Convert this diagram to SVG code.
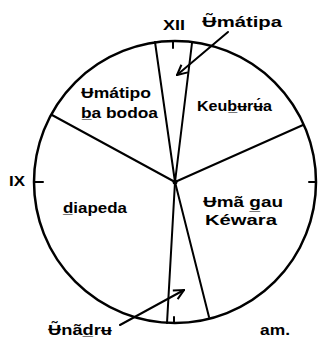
<svg xmlns="http://www.w3.org/2000/svg" width="320" height="350" viewBox="0 0 320 350">
<defs>
<style>
.ln{stroke:#000;stroke-width:2;fill:none;stroke-linecap:round}
.t{font-family:"Liberation Sans","DejaVu Sans",Arial,sans-serif;font-weight:bold;font-size:15px;fill:#000}
</style>
<marker id="ah" viewBox="0 0 12 12" refX="11" refY="6" markerWidth="12" markerHeight="12" markerUnits="userSpaceOnUse" orient="auto">
<path d="M1,1 L11,6 L1,11" fill="none" stroke="#000" stroke-width="2"/>
</marker>
</defs>
<rect width="320" height="350" fill="#fff"/>
<g id="clock">
<circle cx="175" cy="182" r="141" fill="none" stroke="#000" stroke-width="2.5"/>
<path class="ln" d="M173,41 L173,48 M34,182 L43,182 M316,182 L309,182 M174,323 L174,317"/>
<circle cx="175" cy="182" r="2.5" fill="#000"/>
</g>
<g id="connectors">
<path class="ln" d="M175,182 L52,115"/>
<path class="ln" d="M175,182 L155,42"/>
<path class="ln" d="M175,182 L192,43"/>
<path class="ln" d="M175,182 L303,125"/>
<path class="ln" d="M175,182 L209,317"/>
<path class="ln" d="M175,182 L167,323"/>
<path class="ln" d="M228,32 L177,75" marker-end="url(#ah)"/>
<path class="ln" d="M120,325 L184,290" marker-end="url(#ah)"/>
</g>
<g id="labels">
<text class="t" x="163" y="30" textLength="22" lengthAdjust="spacingAndGlyphs">XII</text>
<text class="t" x="9" y="186" textLength="16" lengthAdjust="spacingAndGlyphs">IX</text>
<text class="t" x="202" y="27" textLength="80" lengthAdjust="spacingAndGlyphs">Ʉ̃mátipa</text>
<text class="t" x="81" y="98" textLength="70" lengthAdjust="spacingAndGlyphs">Ʉmátipo</text>
<text class="t" x="81" y="118" textLength="77" lengthAdjust="spacingAndGlyphs">b̲a bodoa</text>
<text class="t" x="197" y="111" textLength="75" lengthAdjust="spacingAndGlyphs">Keub̲ʉrʉ́a</text>
<text class="t" x="203" y="207" textLength="80" lengthAdjust="spacingAndGlyphs">Ʉmã g̲au</text>
<text class="t" x="205" y="225" textLength="72" lengthAdjust="spacingAndGlyphs">Kéwara</text>
<text class="t" x="63" y="213" textLength="64" lengthAdjust="spacingAndGlyphs">d̲iapeda</text>
<text class="t" x="48" y="335" textLength="64" lengthAdjust="spacingAndGlyphs">Ʉ̃nãd̲rʉ</text>
<text class="t" x="260" y="335" textLength="30" lengthAdjust="spacingAndGlyphs">am.</text>
</g>
</svg>
